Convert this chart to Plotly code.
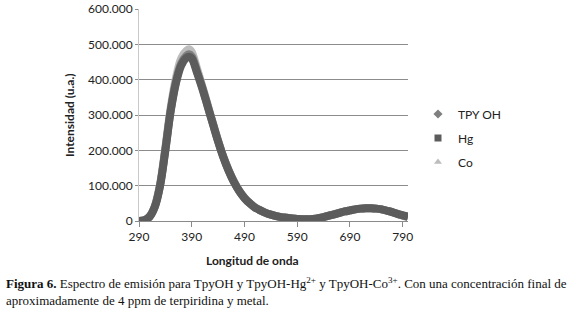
import plotly.graph_objects as go

wavelength = [290, 300, 310, 320, 330, 340, 350, 360, 370, 380, 385, 390, 400, 410, 420, 430, 440, 450, 460,
              470, 480, 490, 500, 510, 520, 530, 540, 550, 560, 570, 580, 590, 600, 610, 620, 630, 640,
              650, 660, 670, 680, 690, 700, 710, 720, 730, 740, 750, 760, 770, 780, 790, 800]

hg = [0, 2000, 12000, 40000, 100000, 200000, 310000, 390000, 440000, 462000, 465000, 460000, 420000, 375000,
      325000, 275000, 225000, 180000, 142000, 110000, 85000, 65000, 50000, 38000, 30000, 23000, 18000,
      14000, 11000, 9000, 7000, 6000, 5000, 5000, 6000, 8000, 11000, 15000, 19000, 23000, 27000, 30000,
      33000, 35000, 36000, 36000, 35000, 33000, 29000, 25000, 20000, 16000, 12000]

tpy_oh = [0, 2000, 12000, 41000, 102000, 203000, 313000, 394000, 446000, 468000, 472000, 466000, 424000,
          378000, 327000, 276000, 226000, 181000, 143000, 111000, 85000, 65000, 50000, 38000, 30000, 23000,
          18000, 14000, 11000, 9000, 7000, 6000, 5000, 5000, 6000, 8000, 11000, 15000, 19000, 23000, 27000,
          30000, 33000, 35000, 36000, 36000, 35000, 33000, 29000, 25000, 20000, 16000, 12000]

co = [0, 2000, 13000, 42000, 105000, 208000, 320000, 405000, 460000, 482000, 486000, 478000, 432000,
      382000, 330000, 278000, 228000, 182000, 144000, 112000, 86000, 66000, 51000, 39000, 30000, 23000,
      18000, 14000, 11000, 9000, 7000, 6000, 5000, 5000, 6000, 8000, 11000, 15000, 19000, 23000, 27000,
      30000, 33000, 35000, 36000, 36000, 35000, 33000, 29000, 25000, 20000, 15000, 10000]

series_names = ["TPY OH", "Hg", "Co"]
x_ticks = [290, 390, 490, 590, 690, 790]
y_ticks = [0, 100000, 200000, 300000, 400000, 500000, 600000]

C_TPY = "#7f7f7f"
C_HG = "#5c5c5c"
C_CO = "#bdbdbd"

fig = go.Figure()
fig.add_trace(go.Scatter(x=wavelength, y=co, mode="lines", line=dict(color=C_CO, width=8, shape="spline"),
                         showlegend=False, hoverinfo="skip"))
fig.add_trace(go.Scatter(x=wavelength, y=tpy_oh, mode="lines", line=dict(color=C_TPY, width=8, shape="spline"),
                         showlegend=False, hoverinfo="skip"))
fig.add_trace(go.Scatter(x=wavelength, y=hg, mode="lines", line=dict(color=C_HG, width=8, shape="spline"),
                         showlegend=False, hoverinfo="skip"))
for name, sym, col in zip(series_names, ["diamond", "square", "triangle-up"], [C_TPY, C_HG, C_CO]):
    fig.add_trace(go.Scatter(x=[None], y=[None], mode="markers", name=name,
                             marker=dict(symbol=sym, color=col, size=7), legendgroup=name))

fig.update_layout(
    width=576, height=317,
    margin=dict(l=139, r=168, t=9, b=96, autoexpand=False),
    paper_bgcolor="white", plot_bgcolor="white",
    separators=",.",
    font=dict(family="Lato, Open Sans, sans-serif", size=12, color="#222222"),
    showlegend=True,
    legend=dict(x=(418 - 139) / 269, xanchor="left", y=(221 - 138) / 212, yanchor="middle",
                font=dict(size=12, color="#222222"),
                itemwidth=30, tracegroupgap=5, bgcolor="rgba(0,0,0,0)"),
)
fig.update_xaxes(range=[290, 800], tickvals=x_ticks, ticktext=[str(v) for v in x_ticks], automargin=False,
                 showgrid=False, zeroline=False, showline=True, linecolor="#8a8a8a", linewidth=1,
                 ticks="outside", ticklen=5, tickcolor="#8a8a8a", tickfont=dict(size=12, color="#222222"))
fig.update_yaxes(range=[0, 600000], tickvals=y_ticks, tickformat=",d", automargin=False,
                 showgrid=True, gridcolor="#8c8c8c", gridwidth=1, zeroline=False,
                 showline=True, linecolor="#c8c8c8", linewidth=1,
                 ticks="outside", ticklen=3, tickcolor="#8c8c8c", tickfont=dict(size=12, color="#222222"))

fig.add_annotation(text="<b>Intensidad (u.a.)</b>", xref="paper", yref="paper",
                   x=(69 - 139) / 269, y=(221 - 115) / 212, textangle=-90, showarrow=False,
                   font=dict(size=12, color="#222222"), xanchor="center", yanchor="middle")
fig.add_annotation(text="<b>Longitud de onda</b>", xref="paper", yref="paper",
                   x=(252 - 139) / 269, y=(221 - 260) / 212, showarrow=False,
                   font=dict(size=12, color="#222222"), xanchor="center", yanchor="middle")

fig.add_annotation(
    text="<b>Figura 6.</b> Espectro de emisión para TpyOH y TpyOH-Hg<sup>2+</sup> y TpyOH-Co<sup>3+</sup>. "
         "Con una concentración final de<br>aproximadamente de 4 ppm de terpiridina y metal.",
    xref="paper", yref="paper", x=(4 - 139) / 269, y=(221 - 273) / 212, xanchor="left", yanchor="top",
    align="left", showarrow=False, font=dict(family="Liberation Serif, Times New Roman, serif", size=13,
                                             color="#111111"))

fig.write_html("out.html", config={"displayModeBar": False},
               post_script="document.body.style.margin='0';")
